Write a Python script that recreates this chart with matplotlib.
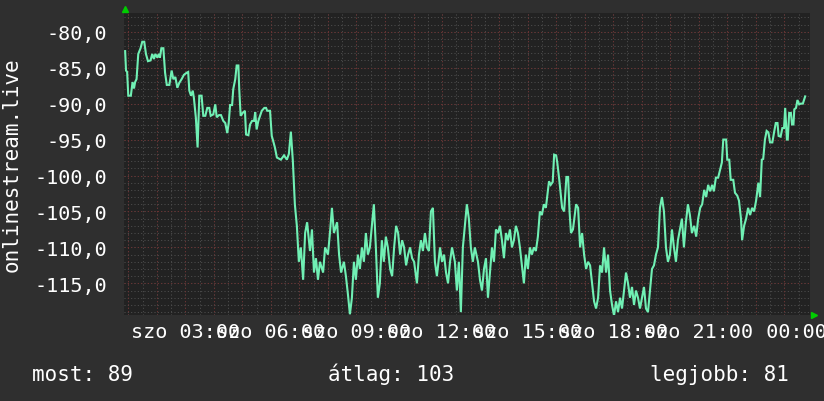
"""Daily signal plot for onlinestream.live, rrdtool-like dark style."""

import matplotlib

matplotlib.use("Agg")
import matplotlib.pyplot as plt
import numpy as np

# sample time (hours since szo 00:00) and signal level
hours = [
    0.89, 0.92, 0.96, 1.00, 1.09, 1.15, 1.20, 1.24, 1.29, 1.35, 1.43, 1.49, 1.56, 1.62, 1.69,
    1.78, 1.84, 1.90, 1.95, 2.02, 2.07, 2.11, 2.16, 2.23, 2.29, 2.35, 2.44, 2.52, 2.58, 2.65,
    2.72, 2.79, 2.87, 2.95, 3.05, 3.10, 3.14, 3.20, 3.26, 3.30, 3.37, 3.43, 3.49, 3.57, 3.63,
    3.70, 3.77, 3.84, 3.89, 3.98, 4.05, 4.10, 4.18, 4.25, 4.33, 4.40, 4.47, 4.52, 4.57, 4.64,
    4.68, 4.75, 4.80, 4.86, 4.89, 4.94, 5.01, 5.09, 5.13, 5.21, 5.27, 5.34, 5.41, 5.45, 5.50,
    5.56, 5.62, 5.68, 5.77, 5.83, 5.87, 5.97, 6.03, 6.08, 6.14,
    6.21, 6.35, 6.46, 6.56, 6.63, 6.70, 6.77, 6.84, 6.91, 6.98, 7.05, 7.13, 7.20, 7.27, 7.37,
    7.44, 7.51, 7.58, 7.65, 7.72, 7.83, 7.90, 8.00, 8.07, 8.14, 8.21, 8.32, 8.39, 8.46, 8.56,
    8.63, 8.70, 8.77, 8.84, 8.91, 8.98, 9.05, 9.12, 9.19, 9.26, 9.33, 9.40, 9.47, 9.54, 9.61,
    9.68, 9.75, 9.82, 9.89, 9.96, 10.03, 10.10, 10.18, 10.25, 10.32, 10.39, 10.46, 10.53, 10.60,
    10.67, 10.74, 10.81, 10.88, 10.95, 11.02, 11.12, 11.19, 11.26, 11.33, 11.40, 11.47, 11.54,
    11.61, 11.68, 11.75, 11.82, 11.93, 12.00, 12.07, 12.14, 12.21, 12.28, 12.35, 12.45, 12.52,
    12.59, 12.66, 12.73, 12.80, 12.87, 12.94, 13.01, 13.08, 13.15, 13.26, 13.33, 13.40, 13.47,
    13.54, 13.61, 13.68, 13.75, 13.82, 13.89, 13.96, 14.03, 14.10, 14.17, 14.24, 14.31, 14.38,
    14.45, 14.52, 14.59, 14.66, 14.73, 14.80, 14.87, 14.94, 15.01, 15.08, 15.15, 15.22, 15.29,
    15.36, 15.43, 15.50, 15.57, 15.64,
    15.75, 15.81, 15.88, 15.93, 16.00, 16.04, 16.11, 16.21, 16.28, 16.36, 16.42, 16.47, 16.52,
    16.59, 16.70, 16.77, 16.84, 16.91, 16.98, 17.05, 17.12, 17.19, 17.26, 17.33, 17.40, 17.47,
    17.54, 17.61, 17.68, 17.75, 17.82, 17.89, 17.96, 18.03, 18.10, 18.17, 18.24, 18.31, 18.38,
    18.45, 18.52, 18.59, 18.66, 18.73, 18.80, 18.87, 18.94, 19.01, 19.08, 19.15, 19.22, 19.29,
    19.36, 19.43, 19.50, 19.57, 19.61, 19.64, 19.71, 19.78, 19.85, 19.92, 19.99, 20.06, 20.13,
    20.20, 20.27, 20.34, 20.41, 20.48, 20.55, 20.62, 20.69, 20.76, 20.84, 20.91, 20.98, 21.05,
    21.12, 21.19, 21.26, 21.33, 21.40, 21.47, 21.53, 21.60, 21.68, 21.81, 21.86, 21.96, 22.00,
    22.07, 22.12, 22.21, 22.27, 22.35, 22.41, 22.48, 22.52, 22.59, 22.66, 22.73, 22.80, 22.87,
    22.94, 23.01, 23.09, 23.15, 23.21, 23.26, 23.32, 23.38, 23.44, 23.50, 23.58, 23.64, 23.70,
    23.76, 23.80, 23.87, 23.93, 23.99, 24.03, 24.09, 24.12, 24.17, 24.23, 24.27, 24.32, 24.35,
    24.41, 24.46, 24.52, 24.58, 24.65, 24.73,
]
signal = [
    -82.7, -85.4, -85.6, -88.9, -88.9, -87.0, -87.9, -87.0, -86.6, -83.1, -82.3, -81.4, -81.4, -83.1, -84.1,
    -84.0, -83.1, -83.8, -83.1, -83.6, -83.1, -83.6, -82.3, -82.3, -85.7, -87.4, -87.4, -85.4, -86.6, -86.3,
    -87.8, -87.1, -86.6, -86.0, -85.7, -85.6, -88.2, -88.9, -88.2, -89.2, -92.0, -96.1, -88.9, -88.9, -91.7,
    -91.7, -90.6, -90.6, -91.7, -91.5, -90.1, -91.9, -91.6, -91.6, -92.4, -92.7, -94.1, -92.7, -90.2, -90.2,
    -88.0, -86.6, -84.7, -84.7, -88.0, -91.7, -91.3, -91.0, -94.3, -94.4, -92.9, -92.4, -92.4, -91.2, -93.6,
    -92.4, -91.7, -91.0, -90.6, -90.6, -91.0, -91.0, -94.5, -95.2, -96.1,
    -97.5, -97.8, -97.2, -97.8, -97.0, -93.9, -98.0, -104.0, -107.0, -112.0, -110.0, -114.5, -108.0, -106.5, -110.5,
    -107.5, -113.5, -111.5, -114.5, -112.0, -113.5, -110.0, -111.0, -108.0, -104.5, -108.0, -106.5, -111.0, -113.5, -112.0,
    -114.0, -116.5, -119.3, -117.0, -112.0, -114.5, -111.0, -113.0, -110.0, -112.0, -108.0, -111.0, -110.0, -107.0, -104.0,
    -110.0, -117.0, -115.0, -109.0, -112.0, -108.5, -110.0, -113.0, -114.0, -110.0, -107.0, -108.0, -111.0, -109.0,
    -110.0, -112.5, -111.0, -110.0, -111.5, -112.0, -115.0, -111.0, -109.0, -110.5, -108.0, -110.0, -110.5,
    -105.0, -104.5, -112.0, -114.0, -110.0, -112.0, -111.0, -113.5, -115.0, -112.0, -110.0, -112.0, -116.0,
    -112.0, -119.0, -110.0, -107.0, -104.0, -106.0, -110.0, -112.0, -110.0, -112.0, -114.5, -116.0, -113.0,
    -111.5, -117.0, -113.5, -110.0, -112.0, -107.5, -108.0, -107.0, -109.0, -111.5, -108.0, -109.0, -107.5,
    -110.0, -109.0, -107.0, -108.0, -110.0, -112.5, -115.0, -111.0, -113.0, -110.0, -111.0, -110.0, -110.5,
    -108.5, -105.0, -105.5, -104.0, -104.5,
    -100.8, -101.3, -100.9, -97.1, -97.2, -98.2, -100.6, -104.5, -105.0, -100.2, -100.2, -105.0, -108.0,
    -107.5, -104.0, -104.5, -110.0, -108.0, -111.0, -113.0, -112.0, -112.5, -115.0, -117.5, -118.5, -117.0,
    -112.5, -113.5, -110.0, -113.5, -111.0, -116.0, -118.0, -119.5, -117.5, -119.0, -117.0, -118.5, -116.0,
    -113.5, -115.0, -117.0, -115.5, -118.0, -116.0, -117.0, -118.5, -117.0, -115.5, -118.5, -119.0, -116.0,
    -113.0, -112.5, -111.0, -110.0, -107.0, -104.5, -103.0, -105.0, -110.0, -112.0, -111.0, -107.5, -110.0,
    -112.0, -109.0, -107.5, -106.0, -110.0, -106.5, -104.0, -105.5, -108.0, -107.0, -108.5, -106.0, -104.5,
    -104.0, -102.0, -103.0, -101.3, -102.2, -101.3, -102.2, -100.3, -100.3, -98.2, -95.0, -95.0, -97.8,
    -97.8, -100.6, -100.6, -102.4, -102.8, -103.5, -106.0, -109.0, -107.0, -106.0, -104.5, -105.5, -104.5,
    -105.0, -103.5, -101.0, -103.0, -97.8, -97.7, -95.0, -93.8, -94.0, -95.4, -95.4, -94.0, -92.7,
    -92.7, -94.5, -94.6, -93.4, -93.4, -90.6, -95.0, -95.0, -91.3, -91.3, -92.9, -92.9, -90.8,
    -90.6, -89.5, -90.1, -90.0, -90.0, -89.0,
]

label_hours = [3, 6, 9, 12, 15, 18, 21, 24]
time_labels = ["szo 03:00", "szo 06:00", "szo 09:00", "szo 12:00",
               "szo 15:00", "szo 18:00", "szo 21:00", "  00:00"]
value_ticks = [-115, -110, -105, -100, -95, -90, -85, -80]
y_title = "onlinestream.live"
footer = [("most: 89", 32), ("átlag: 103", 328), ("legjobb: 81", 650)]

BG = "#2f2f2f"
CANVAS = "#222222"
LINE = "#70f0b4"
MONO = "DejaVu Sans Mono"

W, H = 824, 402
fig = plt.figure(figsize=(W / 100, H / 100), dpi=100, facecolor=BG)
ax = fig.add_axes([124 / W, 1 - 316 / H, 686 / W, 302 / H], facecolor=CANVAS)

xlim = (0.85, 24.90)
ylim = (-119.4, -77.4)

# grid: fine gray every 1 unit / 30 min, red every 5 units / 1 h
minor_kw = dict(color="#4e4e4e", linewidth=0.75, linestyles=(0, (1, 2.2)), zorder=1)
major_kw = dict(color="#6e3030", linewidth=0.75, linestyles=(0, (1, 2.2)), zorder=1.5)
ax.hlines(np.arange(-119, -77), *xlim, **minor_kw)
ax.vlines(np.arange(1.0, 25.0, 0.5), *ylim, **minor_kw)
ax.hlines(value_ticks, *xlim, **major_kw)
ax.vlines(np.arange(1, 25), *ylim, **major_kw)

ax.plot(hours, signal, color=LINE, linewidth=1.5, zorder=3, solid_joinstyle="miter")

ax.set_xlim(*xlim)
ax.set_ylim(*ylim)
for s in ax.spines.values():
    s.set_visible(False)

ax.set_yticks(value_ticks)
ax.set_yticklabels([f"{v:.1f}".replace(".", ",") for v in value_ticks])
ax.set_xticks(label_hours)
ax.set_xticklabels(time_labels)
ax.tick_params(axis="both", length=0, colors="white", labelsize=14.5)
ax.tick_params(axis="y", pad=12)
ax.tick_params(axis="x", pad=5)
for lab in ax.get_xticklabels() + ax.get_yticklabels():
    lab.set_family(MONO)

# green axis arrows
ax.plot([0.0015], [1.013], marker="^", color="#00cc00", markersize=5,
        transform=ax.transAxes, clip_on=False)
ax.plot([1.006], [0.0], marker=">", color="#00cc00", markersize=5,
        transform=ax.transAxes, clip_on=False)

fig.text(12 / W, 1 - 165 / H, y_title, rotation=90, ha="center", va="center",
         color="white", fontsize=15, family=MONO)
for text, x in footer:
    fig.text(x / W, 1 - 381 / H, text, ha="left", va="baseline",
             color="white", fontsize=15, family=MONO)

fig.savefig("out.png", dpi=100, facecolor=BG)
